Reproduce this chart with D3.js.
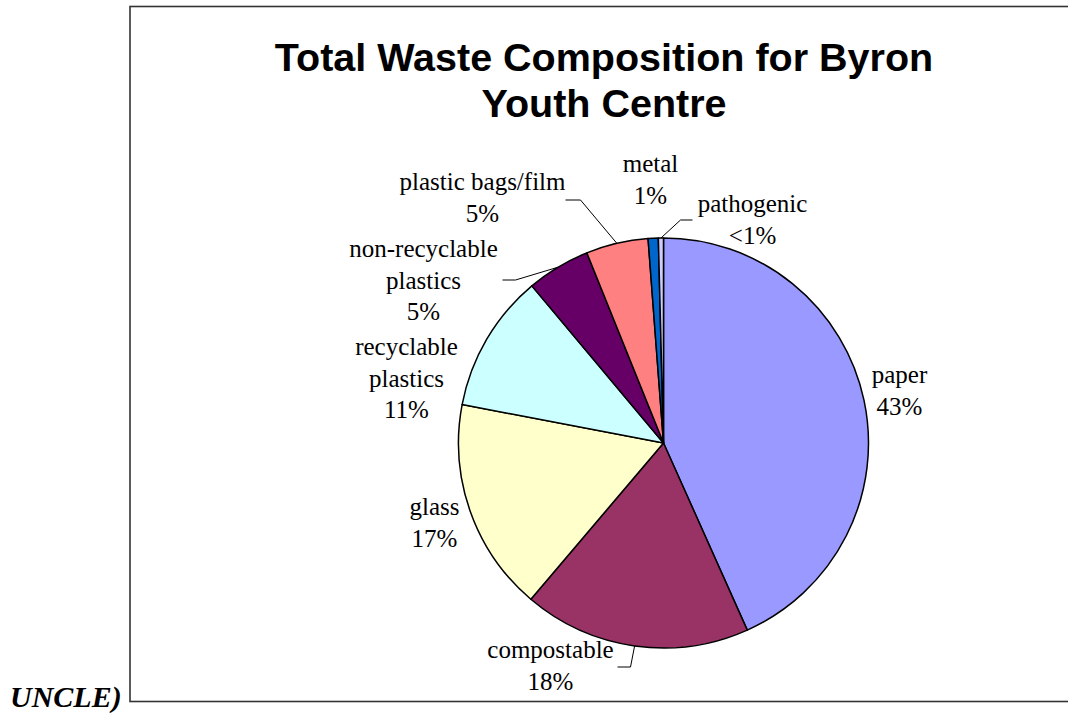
<!DOCTYPE html>
<html>
<head>
<meta charset="utf-8">
<script src="https://cdn.jsdelivr.net/npm/d3@7"></script>
<style>
  html, body { margin: 0; padding: 0; background: #fff; }
  svg { display: block; }
</style>
</head>
<body>
<svg id="chart" width="1068" height="714"></svg>
<script>
// ---- data ----
const categories = ["paper", "compostable", "glass", "recyclable plastics", "non-recyclable plastics", "plastic bags/film", "metal", "pathogenic"];
const values = [43.3, 17.9, 16.8, 10.9, 5.0, 4.9, 0.8, 0.4];
const labelLines = [
  ["paper", "43%"],
  ["compostable", "18%"],
  ["glass", "17%"],
  ["recyclable", "plastics", "11%"],
  ["non-recyclable", "plastics", "5%"],
  ["plastic bags/film", "5%"],
  ["metal", "1%"],
  ["pathogenic", "<1%"]
];
const colors = ["#9999FF", "#993366", "#FFFFCC", "#CCFFFF", "#660066", "#FF8080", "#0066CC", "#CCCCFF"];
const titleLines = ["Total Waste Composition for Byron", "Youth Centre"];

// ---- layout (positions relative to pie centre) ----
const cx = 663.5, cy = 443, R = 205;
const labelLayout = [
  { x: 236, y: -60 },          // paper
  { x: -113, y: 215 },         // compostable
  { x: -229, y: 72 },          // glass
  { x: -257, y: -88 },         // recyclable plastics
  { x: -240, y: -186 },        // non-recyclable plastics
  { x: -181, y: -253 },        // plastic bags/film
  { x: -13, y: -271 },         // metal
  { x: 89, y: -231 }           // pathogenic
];
// leader: [elbow, end] offsets relative to centre, null = no leader
const leaders = [
  null,
  [{ x: -33, y: 224 }, { x: -46, y: 224 }],
  null,
  null,
  [{ x: -148, y: -163 }, { x: -161, y: -163 }],
  [{ x: -83, y: -243 }, { x: -98, y: -243 }],
  null,
  [{ x: 17, y: -223 }, { x: 29, y: -223 }]
];

const svg = d3.select("#chart");

// frame
svg.append("rect")
  .attr("x", 130).attr("y", 6.5)
  .attr("width", 960).attr("height", 695)
  .attr("fill", "none").attr("stroke", "#333").attr("stroke-width", 1.6);

// stray text
svg.append("text")
  .attr("x", 10).attr("y", 707)
  .attr("font-family", "'Liberation Serif', 'Times New Roman', serif")
  .attr("font-weight", "bold").attr("font-style", "italic")
  .attr("font-size", 30)
  .attr("fill", "#000")
  .text("UNCLE)");

// title
svg.append("g").selectAll("text")
  .data(titleLines).join("text")
  .attr("x", 604)
  .attr("y", (d, i) => 70.5 + i * 46)
  .attr("text-anchor", "middle")
  .attr("font-family", "'Liberation Sans', Arial, sans-serif")
  .attr("font-weight", "bold")
  .attr("font-size", 39.5)
  .attr("fill", "#000")
  .text(d => d);

// pie
const pie = d3.pie().sort(null).value(d => d)
  .startAngle(0).endAngle(2 * Math.PI);
const arcs = pie(values);
const arc = d3.arc().innerRadius(0).outerRadius(R);

const g = svg.append("g").attr("transform", `translate(${cx},${cy})`);
g.selectAll("path")
  .data(arcs).join("path")
  .attr("d", arc)
  .attr("fill", (d, i) => colors[i])
  .attr("stroke", "#000")
  .attr("stroke-width", 1.5)
  .attr("stroke-linejoin", "round");

// leaders
arcs.forEach((a, i) => {
  const l = leaders[i];
  if (!l) return;
  const mid = (a.startAngle + a.endAngle) / 2;
  const p0 = [R * Math.sin(mid), -R * Math.cos(mid)];
  g.append("polyline")
    .attr("points", [p0, [l[0].x, l[0].y], [l[1].x, l[1].y]].map(p => p.join(",")).join(" "))
    .attr("fill", "none")
    .attr("stroke", "#000")
    .attr("stroke-width", 1);
});

// labels
const lab = g.selectAll("g.label")
  .data(arcs).join("g")
  .attr("class", "label")
  .attr("transform", (d, i) => `translate(${labelLayout[i].x},${labelLayout[i].y})`);
lab.each(function (d, i) {
  const lines = labelLines[i];
  const t = d3.select(this).append("text")
    .attr("text-anchor", "middle")
    .attr("font-family", "'Liberation Serif', 'Times New Roman', serif")
    .attr("font-size", 25)
    .attr("fill", "#000");
  lines.forEach((s, k) => {
    t.append("tspan").attr("x", 0).attr("y", k * 31.5).text(s);
  });
});
</script>
</body>
</html>
